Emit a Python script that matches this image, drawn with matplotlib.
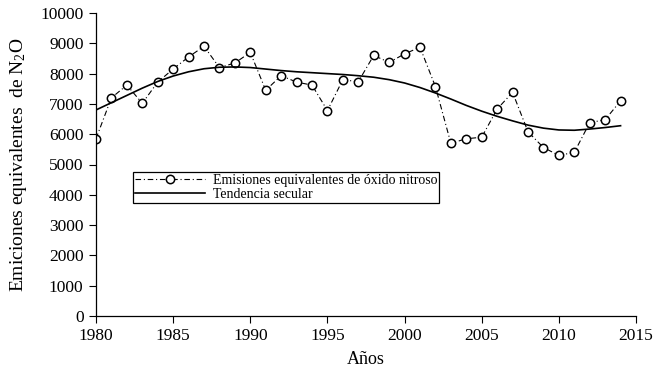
import matplotlib
matplotlib.use("Agg")
import matplotlib.pyplot as plt

# Years and N2O equivalent emissions
years = list(range(1980, 2015))
emissions = [5850, 7200, 7620, 7020, 7720, 8150, 8550, 8900, 8200, 8350,
             8700, 7450, 7930, 7720, 7620, 6780, 7800, 7730, 8600, 8370,
             8650, 8870, 7570, 5700, 5850, 5900, 6830, 7380, 6080, 5560,
             5300, 5400, 6380, 6480, 7100]
# Secular trend (smooth curve, read at each year)
trend = [6800, 7040, 7280, 7520, 7740, 7920, 8060, 8160, 8210, 8220,
         8200, 8150, 8100, 8060, 8030, 8000, 7970, 7930, 7880, 7800,
         7690, 7540, 7360, 7160, 6950, 6760, 6590, 6440, 6300, 6200,
         6140, 6130, 6170, 6220, 6280]

xticks = [1980, 1985, 1990, 1995, 2000, 2005, 2010, 2015]
yticks = list(range(0, 10001, 1000))

plt.rcParams['font.family'] = ['Liberation Serif', 'DejaVu Serif']
plt.rcParams['mathtext.fontset'] = 'custom'
plt.rcParams['mathtext.rm'] = 'Liberation Serif'

fig = plt.figure(figsize=(6.6, 3.79), dpi=100)
ax = fig.add_axes([96 / 660, 1 - 316 / 379, 540 / 660, 303 / 379])

ax.plot(years, emissions, linestyle=(0, (5, 2.5, 1, 2.5)), color='black',
        linewidth=0.8, marker='o', markersize=6, markerfacecolor='white',
        markeredgecolor='black', markeredgewidth=1.1,
        label='Emisiones equivalentes de óxido nitroso')
ax.plot(years, trend, color='black', linewidth=1.2, label='Tendencia secular')

ax.set_xlim(1980, 2015)
ax.set_ylim(0, 10000)
ax.set_xticks(xticks)
ax.set_yticks(yticks)
ax.tick_params(direction='out', length=5, width=0.8, labelsize=12.5,
               colors='black', pad=4)
for s in ['top', 'right']:
    ax.spines[s].set_visible(False)
for s in ['left', 'bottom']:
    ax.spines[s].set_linewidth(0.9)

ax.set_xlabel('Años', fontsize=13, labelpad=5)
ax.set_ylabel(r'Emiciones equivalentes  de N$\mathrm{_2}$O', fontsize=14, labelpad=8)

leg = ax.legend(loc='upper left', bbox_to_anchor=(133 / 660, 1 - 172 / 379),
                bbox_transform=fig.transFigure, borderaxespad=0,
                fontsize=10, handlelength=5.0, handletextpad=0.6,
                frameon=True, fancybox=False,
                edgecolor='black', framealpha=1, borderpad=0.15,
                labelspacing=0.05)
leg.get_frame().set_linewidth(0.9)

fig.savefig('out.png', dpi=100)
